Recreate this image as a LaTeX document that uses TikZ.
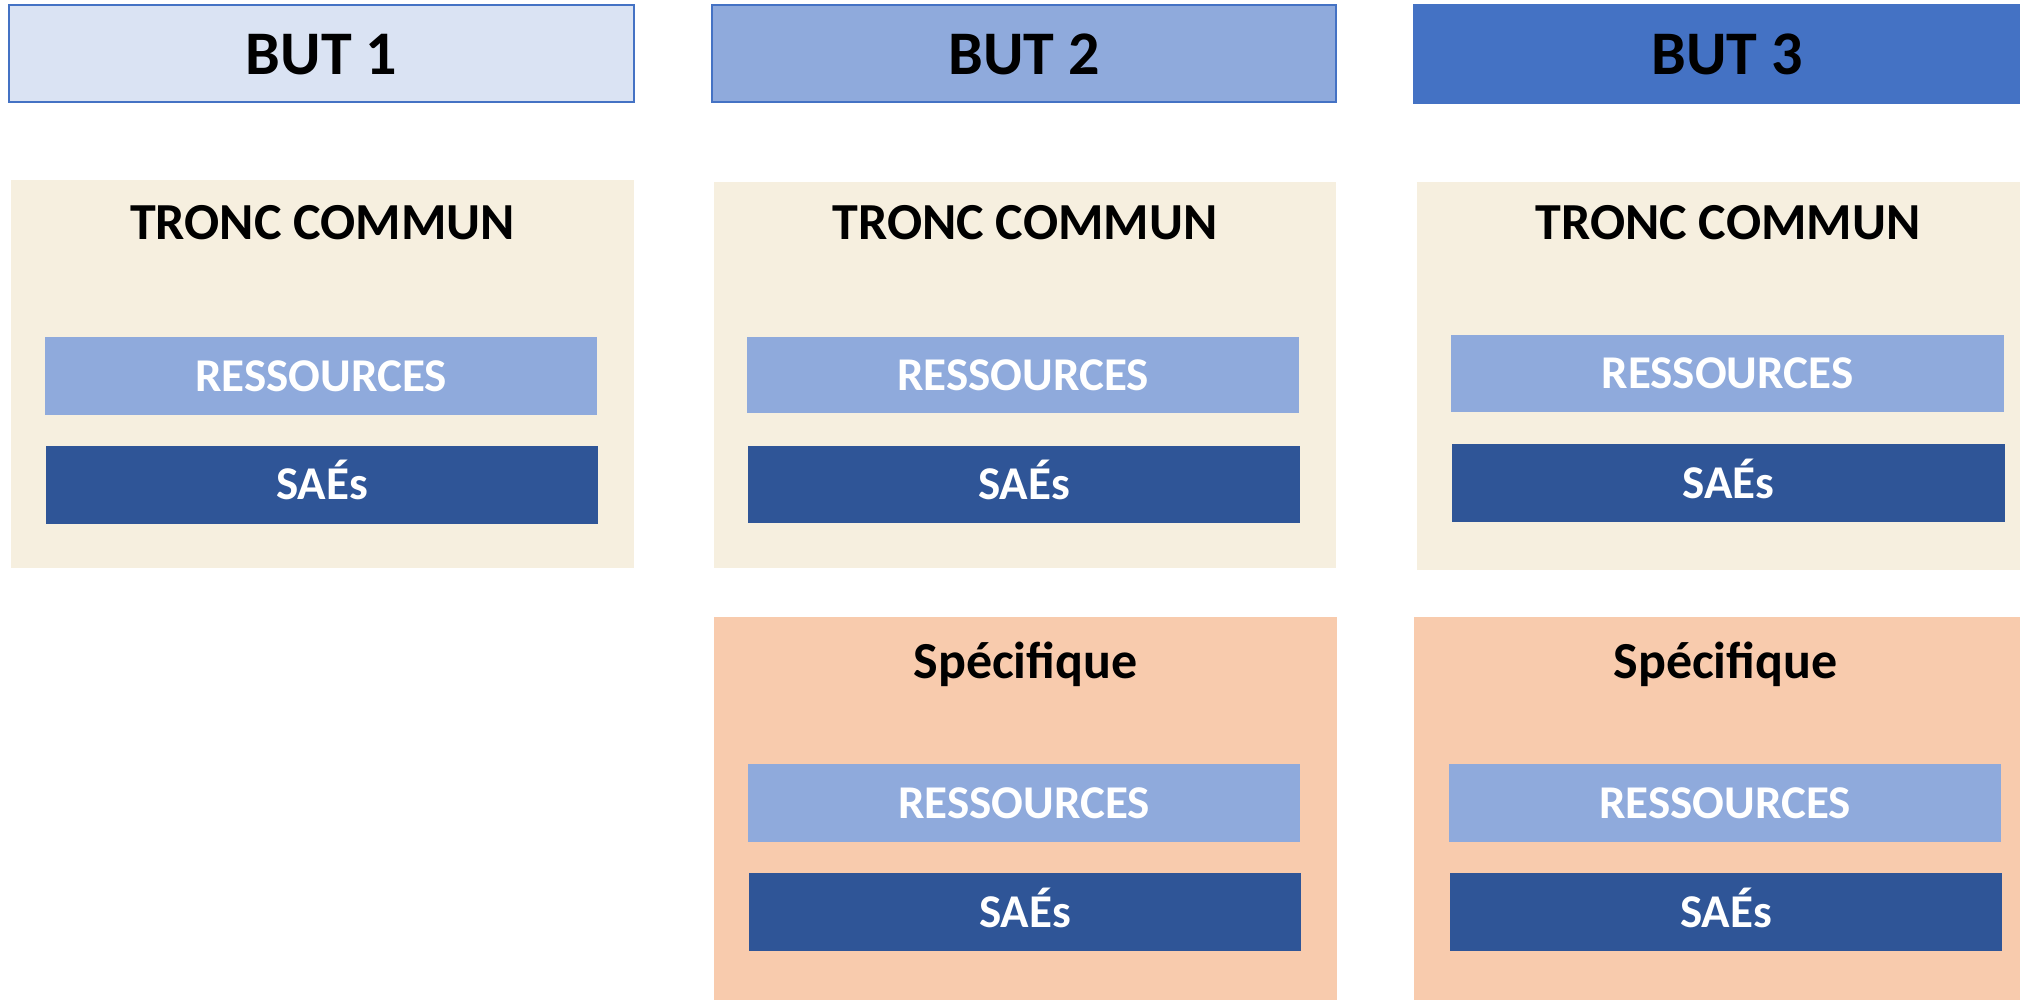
\documentclass[tikz,border=0pt]{standalone}
\usepackage{fontspec}
\setmainfont{Carlito}
\definecolor{but1}{HTML}{DAE3F3}
\definecolor{but2}{HTML}{8FAADC}
\definecolor{but3}{HTML}{4472C4}
\definecolor{tronc}{HTML}{F6EFDF}
\definecolor{spec}{HTML}{F8CBAD}
\definecolor{res}{HTML}{8FAADC}
\definecolor{sae}{HTML}{2F5597}
\tikzset{
  box/.style={rectangle, inner sep=0pt, outer sep=0pt},
  butbox/.style={box, draw=but3, line width=1pt},
  butlabel/.style={anchor=base, inner sep=0pt, font=\bfseries\fontsize{31}{36}\selectfont},
  titlelabel/.style={anchor=base, inner sep=0pt, font=\bfseries\fontsize{26}{31}\selectfont},
  itembox/.style={box, text=white, font=\bfseries\fontsize{23.5}{28}\selectfont, text height=15.1pt, text depth=0pt},
}
\begin{document}
\begin{tikzpicture}[x=0.5pt,y=-0.5pt]
\useasboundingbox (0,0) rectangle (2020,1000);
\clip (0,0) rectangle (2020,1000);
% headers
\node[butbox, fill=but1, minimum width=312.5pt, minimum height=48.5pt] (b1) at (321.5,53.5) {};
\node[butbox, fill=but2, minimum width=312pt, minimum height=48.5pt] (b2) at (1024,53.5) {};
\node[butbox, fill=but3, minimum width=313pt, minimum height=49pt] (b3) at (1727,54) {};
\node[butlabel] (t1) at (321.5,75) {BUT 1};
\node[butlabel] (t2) at (1024,75) {BUT 2};
\node[butlabel] (t3) at (1727,75) {BUT 3};
% tronc commun containers
\node[box, fill=tronc, minimum width=311.5pt, minimum height=194pt] (tc1) at (322.5,374) {};
\node[box, fill=tronc, minimum width=311pt, minimum height=193pt] (tc2) at (1025,375) {};
\node[box, fill=tronc, minimum width=311pt, minimum height=194pt] (tc3) at (1728,376) {};
\node[titlelabel] (tct1) at (322.5,240) {TRONC COMMUN};
\node[titlelabel] (tct2) at (1025,240) {TRONC COMMUN};
\node[titlelabel] (tct3) at (1728,240) {TRONC COMMUN};
\node[itembox, fill=res, minimum width=276pt, minimum height=38.75pt] (r1) at (321,376.25) {RESSOURCES};
\node[itembox, fill=sae, minimum width=276pt, minimum height=38.75pt] (s1) at (322,484.75) {SAÉs};
\node[itembox, fill=res, minimum width=276pt, minimum height=38pt] (r2) at (1023,375.5) {RESSOURCES};
\node[itembox, fill=sae, minimum width=276pt, minimum height=38.5pt] (s2) at (1024,484.5) {SAÉs};
\node[itembox, fill=res, minimum width=276.5pt, minimum height=38.5pt] (r3) at (1727.5,373.5) {RESSOURCES};
\node[itembox, fill=sae, minimum width=276.5pt, minimum height=39pt] (s3) at (1728.5,483) {SAÉs};
% specifique containers
\node[box, fill=spec, minimum width=311.5pt, minimum height=191.5pt] (sp2) at (1025.5,808.5) {};
\node[box, fill=spec, minimum width=311.5pt, minimum height=191.5pt] (sp3) at (1725.5,808.5) {};
\node[titlelabel] (spt2) at (1025.5,678) {Spécifique};
\node[titlelabel] (spt3) at (1725.5,678) {Spécifique};
\node[itembox, fill=res, minimum width=276pt, minimum height=39pt] (r4) at (1024,803) {RESSOURCES};
\node[itembox, fill=sae, minimum width=276pt, minimum height=39pt] (s4) at (1025,912) {SAÉs};
\node[itembox, fill=res, minimum width=276pt, minimum height=39pt] (r5) at (1725,803) {RESSOURCES};
\node[itembox, fill=sae, minimum width=276pt, minimum height=39pt] (s5) at (1726,912) {SAÉs};
\end{tikzpicture}
\end{document}
